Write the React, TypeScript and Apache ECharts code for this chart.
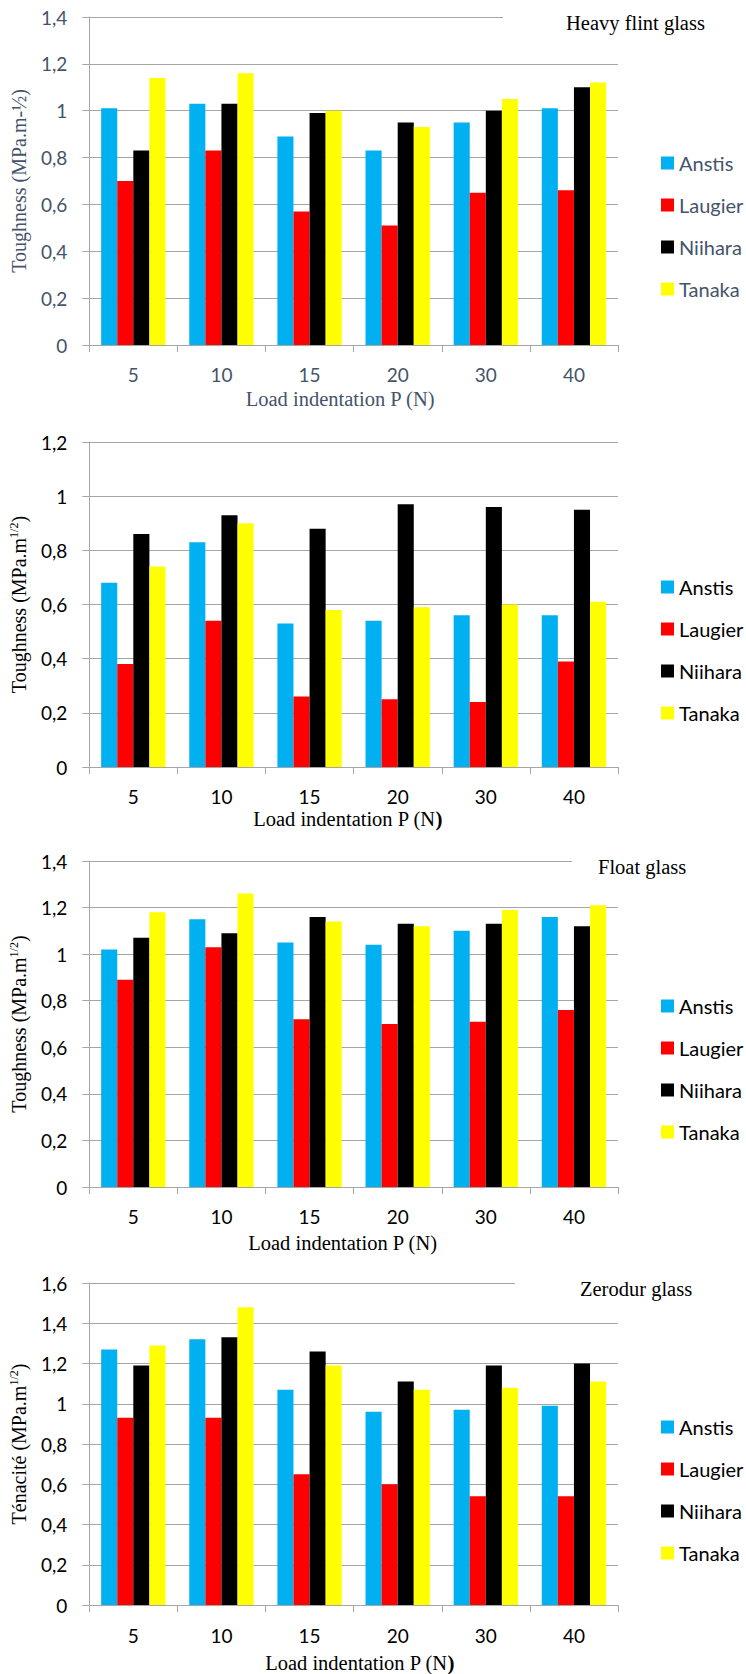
import React, { useEffect, useRef } from "react";
import * as echarts from "echarts";

const categories = ["5", "10", "15", "20", "30", "40"];
const seriesNames = ["Anstis", "Laugier", "Niihara", "Tanaka"];
const seriesColors = ["#00B0F0", "#FF0000", "#000000", "#FFFF00"];

// Heavy flint glass
const heavyAnstis = [1.01, 1.03, 0.89, 0.83, 0.95, 1.01];
const heavyLaugier = [0.7, 0.83, 0.57, 0.51, 0.65, 0.66];
const heavyNiihara = [0.83, 1.03, 0.99, 0.95, 1.0, 1.1];
const heavyTanaka = [1.14, 1.16, 1.0, 0.93, 1.05, 1.12];

// Second glass (untitled)
const secondAnstis = [0.68, 0.83, 0.53, 0.54, 0.56, 0.56];
const secondLaugier = [0.38, 0.54, 0.26, 0.25, 0.24, 0.39];
const secondNiihara = [0.86, 0.93, 0.88, 0.97, 0.96, 0.95];
const secondTanaka = [0.74, 0.9, 0.58, 0.59, 0.6, 0.61];

// Float glass
const floatAnstis = [1.02, 1.15, 1.05, 1.04, 1.1, 1.16];
const floatLaugier = [0.89, 1.03, 0.72, 0.7, 0.71, 0.76];
const floatNiihara = [1.07, 1.09, 1.16, 1.13, 1.13, 1.12];
const floatTanaka = [1.18, 1.26, 1.14, 1.12, 1.19, 1.21];

// Zerodur glass
const zeroAnstis = [1.27, 1.32, 1.07, 0.96, 0.97, 0.99];
const zeroLaugier = [0.93, 0.93, 0.65, 0.6, 0.54, 0.54];
const zeroNiihara = [1.19, 1.33, 1.26, 1.11, 1.19, 1.2];
const zeroTanaka = [1.29, 1.48, 1.19, 1.07, 1.08, 1.11];

const chartData = [
  [heavyAnstis, heavyLaugier, heavyNiihara, heavyTanaka],
  [secondAnstis, secondLaugier, secondNiihara, secondTanaka],
  [floatAnstis, floatLaugier, floatNiihara, floatTanaka],
  [zeroAnstis, zeroLaugier, zeroNiihara, zeroTanaka],
];
const yMaxes = [1.4, 1.2, 1.4, 1.6];
const chartTitles = ["Heavy flint glass", "", "Float glass", "Zerodur glass"];

const SLATE = "#44546A";
const GRAY = "#A6A6A6";
const SANS = "Lato";
const SERIF = '"Liberation Serif", "Times New Roman", serif';

const layout = [
  { top: 17, height: 328, legendTop: 148, textColor: SLATE, yGap: 55, xGap: 43, xPad: [0, 27, 0, 0], titleX: 566, cutX: 503, labelMargin: 20 },
  { top: 442, height: 325, legendTop: 572, textColor: "#000", yGap: 51, xGap: 41, xPad: [0, 12, 0, 0], titleX: 0, cutX: 0, labelMargin: 20 },
  { top: 861, height: 326, legendTop: 991, textColor: "#000", yGap: 55, xGap: 45, xPad: [0, 22, 0, 0], titleX: 598, cutX: 572, labelMargin: 20 },
  { top: 1283, height: 323, legendTop: 1412, textColor: "#000", yGap: 57, xGap: 47, xPad: [0, 0, 0, 12], titleX: 580, cutX: 515, labelMargin: 21 },
];

const yNames = [
  "Toughness (MPa.m-½)",
  "Toughness (MPa.m{sup|1/2})",
  "Toughness (MPa.m{sup|1/2})",
  "Ténacité (MPa.m{sup|1/2})",
];
const xNames = [
  "Load indentation P (N)",
  "Load indentation P (N{b|)}",
  "Load indentation P (N)",
  "Load indentation P (N{b|)}",
];

const fmt = (v: number) => String(Math.round(v * 10) / 10).replace(".", ",");

export default function App() {
  const ref = useRef<HTMLDivElement>(null);

  useEffect(() => {
    if (!ref.current) return;
    const chart = echarts.init(ref.current, undefined, { renderer: "svg" });

    const grids = layout.map((l) => ({ left: 89, right: 128, top: l.top, height: l.height }));

    const xAxes = layout.map((l, i) => ({
      type: "category",
      gridIndex: i,
      data: categories,
      axisLine: { show: true, lineStyle: { color: GRAY, width: 1 } },
      axisTick: { show: true, length: 7, lineStyle: { color: GRAY } },
      axisLabel: { color: l.textColor, fontFamily: SANS, fontSize: 19, margin: l.labelMargin },
      name: xNames[i],
      nameLocation: "middle",
      nameGap: l.xGap,
      nameTextStyle: {
        fontFamily: SERIF,
        fontSize: 20.5,
        color: l.textColor,
        padding: l.xPad,
        rich: { b: { fontFamily: SERIF, fontSize: 21, fontWeight: "bold", color: l.textColor } },
      },
    }));

    const yAxes = layout.map((l, i) => ({
      type: "value",
      gridIndex: i,
      min: 0,
      max: yMaxes[i],
      interval: 0.2,
      axisLine: { show: true, lineStyle: { color: GRAY, width: 1 } },
      axisTick: { show: true, length: 7, lineStyle: { color: GRAY } },
      splitLine: { show: true, lineStyle: { color: GRAY, width: 1 } },
      axisLabel: { color: l.textColor, fontFamily: SANS, fontSize: 19, margin: 22, formatter: fmt },
      name: yNames[i],
      nameLocation: "middle",
      nameGap: l.yGap,
      nameRotate: 90,
      nameTextStyle: {
        fontFamily: SERIF,
        fontSize: 20,
        lineHeight: 22,
        color: l.textColor,
        rich: { sup: { fontFamily: SERIF, fontSize: 12, lineHeight: 12, verticalAlign: "top", color: l.textColor } },
      },
    }));

    const series: any[] = [];
    chartData.forEach((group, i) => {
      group.forEach((values, j) => {
        series.push({
          type: "bar",
          name: seriesNames[j],
          xAxisIndex: i,
          yAxisIndex: i,
          data: values,
          itemStyle: { color: seriesColors[j] },
          barGap: "0%",
          barCategoryGap: "27%",
        });
      });
    });

    const legends = layout.map((l) => ({
      orient: "vertical",
      left: 656,
      top: l.legendTop,
      data: seriesNames,
      icon: "rect",
      itemWidth: 13,
      itemHeight: 13,
      itemGap: 22,
      selectedMode: false,
      textStyle: { fontFamily: SANS, fontSize: 20, lineHeight: 20, color: l.textColor },
    }));

    const graphics: any[] = [];
    layout.forEach((l, i) => {
      if (!chartTitles[i]) return;
      graphics.push({
        type: "rect",
        z: 100,
        shape: { x: l.cutX, y: l.top - 3, width: 130, height: 6 },
        style: { fill: "#ffffff" },
      });
      graphics.push({
        type: "text",
        z: 101,
        x: l.titleX,
        y: l.top + 6,
        style: { text: chartTitles[i], font: `20.5px ${SERIF}`, fill: "#000", verticalAlign: "middle" },
      });
    });

    chart.setOption({
      animation: false,
      backgroundColor: "#ffffff",
      color: seriesColors,
      grid: grids,
      xAxis: xAxes,
      yAxis: yAxes,
      legend: legends,
      series,
      graphic: graphics,
    });

    return () => chart.dispose();
  }, []);

  return (
    <div
      ref={ref}
      style={{ position: "absolute", left: 0, top: 0, width: 746, height: 1674 }}
    />
  );
}
